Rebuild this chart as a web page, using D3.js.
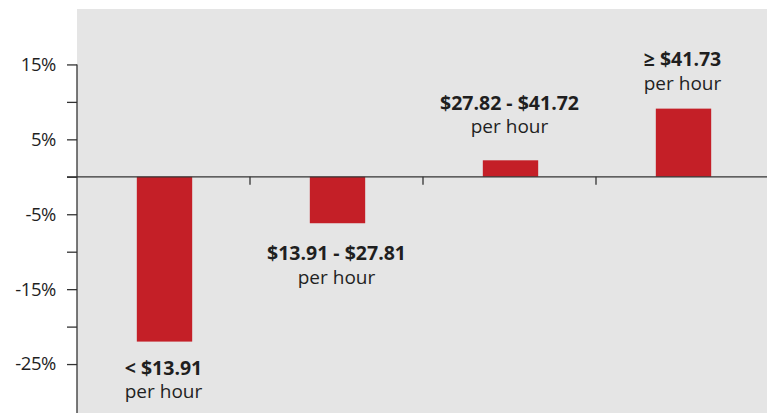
<!DOCTYPE html>
<html>
<head>
<meta charset="utf-8">
<script src="https://cdn.jsdelivr.net/npm/d3@7"></script>
<style>
  html, body { margin: 0; padding: 0; background: #ffffff; }
  svg { display: block; }
  text { font-family: "Open Sans", "Noto Sans", sans-serif; fill: #1f1f1f; }
</style>
</head>
<body>
<svg id="chart" width="767" height="413"></svg>
<script>
// Wage brackets and the percentage change for each
const categories = ["< $13.91", "$13.91 - $27.81", "$27.82 - $41.72", "≥ $41.73"];
const values = [-22.0, -6.2, 2.2, 9.1];
const subLabel = "per hour";
const tickValues = [15, 10, 5, 0, -5, -10, -15, -20, -25];
const labelledTicks = [15, 5, -5, -15, -25];

const W = 767, H = 413;
const svg = d3.select("#chart");

const x = d3.scaleBand().domain(categories).range([77, 769]).padding(0);
const y = d3.scaleLinear().domain([22.4, -31.6]).range([9, 413.5]);

// plot panel
svg.append("rect")
  .attr("x", 77).attr("y", 9)
  .attr("width", W - 77).attr("height", H - 9)
  .attr("fill", "#e5e5e5");

// bars
const barW = x.bandwidth() * 0.32;
svg.append("g").selectAll("rect")
  .data(categories)
  .join("rect")
  .attr("x", (d) => x(d) + x.bandwidth() / 2 - barW / 2 + 1)
  .attr("y", (d, i) => y(Math.max(0, values[i])))
  .attr("width", barW)
  .attr("height", (d, i) => Math.abs(y(values[i]) - y(0)))
  .attr("fill", "#c41f27");

// y axis
const yAxis = d3.axisLeft(y)
  .tickValues(tickValues)
  .tickSize(10)
  .tickPadding(11)
  .tickFormat((d) => labelledTicks.includes(d) ? d + "%" : "");
const gy = svg.append("g").attr("transform", "translate(77,0)").call(yAxis);
gy.select(".domain").remove();
gy.selectAll(".tick line").attr("stroke", "#333").attr("stroke-width", 1.3);
gy.selectAll(".tick text")
  .style("font-size", "18.5px")
  .style("letter-spacing", "-0.4px")
  .attr("fill", "#1f1f1f");
gy.append("line")
  .attr("x1", 0).attr("x2", 0)
  .attr("y1", y(15)).attr("y2", H)
  .attr("stroke", "#333").attr("stroke-width", 1.3);

// zero line with bracket boundary ticks
const gx = svg.append("g");
gx.append("line")
  .attr("x1", 67).attr("x2", W)
  .attr("y1", y(0)).attr("y2", y(0))
  .attr("stroke", "#333").attr("stroke-width", 1.3);
gx.selectAll("line.bt")
  .data(categories)
  .join("line")
  .attr("class", "bt")
  .attr("x1", (d) => x(d) + x.bandwidth())
  .attr("x2", (d) => x(d) + x.bandwidth())
  .attr("y1", y(0)).attr("y2", y(0) + 8)
  .attr("stroke", "#333").attr("stroke-width", 1.3);

// bracket labels: bold range on top, "per hour" below
const labelGap = [33, 37, 27, 19];
const lineStep = 23.5;
const lg = svg.append("g");
categories.forEach((c, i) => {
  const cx = x(c) + x.bandwidth() / 2;
  const v = values[i];
  const b1 = v < 0 ? y(v) + labelGap[i] : y(v) - labelGap[i] - lineStep;
  lg.append("text")
    .attr("x", cx).attr("y", b1)
    .attr("text-anchor", "middle")
    .style("font-size", "19.5px")
    .style("font-weight", "700")
    .text(c);
  lg.append("text")
    .attr("x", cx).attr("y", b1 + lineStep)
    .attr("text-anchor", "middle")
    .style("font-size", "19px")
    .text(subLabel);
});
</script>
</body>
</html>
